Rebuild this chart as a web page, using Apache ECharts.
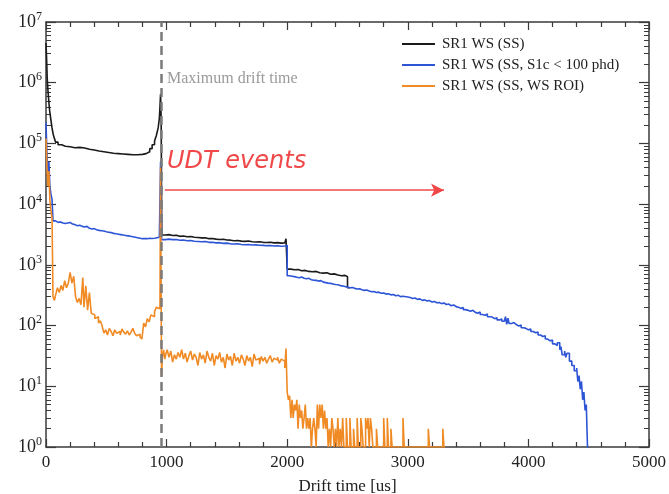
<!DOCTYPE html>
<html>
<head>
<meta charset="utf-8">
<script src="https://cdn.jsdelivr.net/npm/echarts@6/dist/echarts.min.js"></script>
<style>
html,body{margin:0;padding:0;background:#fff;}
#chart{width:669px;height:494px;}
</style>
</head>
<body>
<div id="chart"></div>
<script>
// ---- data (bin left edge [us], counts) ----
const seriesNames = ['SR1 WS (SS)', 'SR1 WS (SS, S1c < 100 phd)', 'SR1 WS (SS, WS ROI)'];
const xTickValues = [0, 1000, 2000, 3000, 4000, 5000];
const maxDriftTime = 953;

const blackData = [
 [0,4.5e6],[5,2.5e6],[10,1.2e6],[15,8e5],[20,6e5],[25,4.5e5],[30,3.5e5],[40,2.5e5],[50,1.8e5],[60,1.4e5],
 [70,1.2e5],[80,1.05e5],[100,9.5e4],[130,9.0e4],[160,8.8e4],[200,8.5e4],[240,8.6e4],[280,8.4e4],[320,8.0e4],
 [360,7.8e4],[400,7.5e4],[440,7.3e4],[480,7.1e4],[520,6.9e4],[560,6.8e4],[600,6.7e4],[640,6.6e4],[680,6.5e4],
 [720,6.5e4],[760,6.6e4],[800,6.8e4],[830,7.3e4],[860,8.2e4],[880,9.5e4],[900,1.1e5],[915,1.35e5],[930,1.8e5],
 [940,2.6e5],[945,4.0e5],[950,6.5e5],[955,2.5e5],[960,3.1e3],[990,3.15e3],[1020,3.05e3],[1050,3.08e3],
 [1080,2.95e3],[1110,2.98e3],[1140,2.9e3],[1170,2.93e3],[1200,2.85e3],[1230,2.82e3],[1260,2.78e3],[1290,2.8e3],
 [1320,2.7e3],[1350,2.72e3],[1380,2.65e3],[1410,2.62e3],[1440,2.64e3],[1470,2.56e3],[1500,2.55e3],[1530,2.5e3],
 [1560,2.52e3],[1590,2.46e3],[1620,2.44e3],[1650,2.47e3],[1680,2.4e3],[1710,2.38e3],[1740,2.4e3],[1770,2.35e3],
 [1800,2.33e3],[1830,2.36e3],[1860,2.3e3],[1890,2.32e3],[1920,2.28e3],[1950,2.3e3],[1980,2.26e3],[1990,2.7e3],
 [2000,8.5e2],[2030,8.3e2],[2060,8.4e2],[2090,8.0e2],[2120,8.1e2],[2150,7.8e2],[2180,7.7e2],[2210,7.8e2],
 [2240,7.4e2],[2270,7.3e2],[2300,7.4e2],[2330,7.0e2],[2360,7.1e2],[2390,6.8e2],[2420,6.6e2],[2450,6.7e2],
 [2480,6.4e2],[2500,4.2e2],[2520,4.2e2]
];

const blueData = [
 [0,2.2e5],[8,6.5e4],[16,3.0e4],[24,5.0e4],[32,2.0e4],[40,1.5e4],[50,1.2e4],[58,5.3e3],[80,5.0e3],[100,5.1e3],
 [120,4.9e3],[140,4.8e3],[160,4.9e3],[180,5.0e3],[200,4.7e3],[220,4.6e3],[240,4.4e3],[260,4.5e3],[280,4.3e3],
 [300,4.2e3],[320,4.3e3],[340,4.0e3],[360,3.9e3],[380,3.95e3],[400,3.8e3],[420,3.7e3],[440,3.65e3],[460,3.6e3],
 [480,3.5e3],[500,3.45e3],[520,3.4e3],[540,3.3e3],[560,3.25e3],[580,3.2e3],[600,3.15e3],[620,3.1e3],[640,3.05e3],
 [660,3.0e3],[680,2.95e3],[700,2.9e3],[720,2.85e3],[740,2.8e3],[760,2.75e3],[780,2.7e3],[800,2.72e3],[820,2.7e3],
 [840,2.75e3],[860,2.72e3],[880,2.75e3],[900,2.8e3],[920,2.85e3],[940,3.0e3],[950,5.0e4],[958,2.6e3],[990,2.65e3],
 [1020,2.6e3],[1050,2.62e3],[1080,2.55e3],[1110,2.57e3],[1140,2.5e3],[1170,2.52e3],[1200,2.45e3],[1230,2.43e3],
 [1260,2.4e3],[1290,2.42e3],[1320,2.35e3],[1350,2.36e3],[1380,2.3e3],[1410,2.32e3],[1440,2.26e3],[1470,2.28e3],
 [1500,2.22e3],[1530,2.2e3],[1560,2.22e3],[1590,2.17e3],[1620,2.15e3],[1650,2.17e3],[1680,2.12e3],[1710,2.13e3],
 [1740,2.1e3],[1770,2.09e3],[1800,2.07e3],[1830,2.08e3],[1860,2.05e3],[1890,2.06e3],[1920,2.03e3],[1950,2.04e3],
 [1980,2.02e3],[1990,2.1e3],
 [2000,660],[2020,650],[2040,640],[2060,625],[2080,615],[2100,630],[2120,600],[2140,590],[2160,600],[2180,570],
 [2200,560],[2220,555],[2240,540],[2260,550],[2280,520],[2300,510],[2320,500],[2340,495],[2360,485],[2380,475],
 [2400,470],[2420,455],[2440,450],[2460,440],[2480,430],[2500,420],[2520,425],[2540,410],[2560,400],[2580,405],
 [2600,390],[2620,380],[2640,385],[2660,370],[2680,360],[2700,365],[2720,350],[2740,355],[2760,340],[2780,345],
 [2800,330],[2820,335],[2840,320],[2860,325],[2880,310],[2900,315],[2920,300],[2940,305],[2960,295],[3000,290],
 [3020,280],[3040,285],[3060,270],[3080,275],[3100,260],[3120,265],[3140,255],[3160,258],[3180,245],[3200,250],
 [3220,238],[3240,240],[3260,230],[3280,235],[3300,222],[3320,226],[3340,212],[3360,218],[3380,205],[3400,200],
 [3420,192],[3440,198],[3460,183],[3480,178],[3500,172],[3520,178],[3540,165],[3560,160],[3580,168],[3600,152],
 [3620,148],[3640,155],[3660,140],[3680,138],[3700,130],[3720,135],[3740,124],[3760,128],[3780,118],[3800,122],
 [3810,140],[3820,105],[3830,132],[3840,108],[3860,112],[3880,104],[3900,98],[3920,102],[3940,92],[3960,90],
 [3980,85],[4000,88],[4020,80],[4040,76],[4060,78],[4080,70],[4100,66],[4120,68],[4140,60],[4160,56],[4180,58],
 [4200,50],[4220,47],[4240,52],[4260,40],[4270,45],[4280,33],[4300,38],[4310,30],[4320,35],[4340,26],[4360,22],
 [4380,18],[4400,20],[4410,12],[4420,15],[4430,9],[4440,12],[4450,6],[4460,8],[4470,4],[4480,5],[4490,1],[4500,1]
];

const orangeData = [
 [0,1.2e5],[8,4e4],[16,2e4],[24,3.5e4],[32,1.2e4],[40,8e3],[50,6e3],[58,3.0e2],[70,2.6e2],[80,3.2e2],[95,4.2e2],
 [110,3.5e2],[125,4.6e2],[140,3.8e2],[155,5.5e2],[170,4.2e2],[185,5.0e2],[200,7.5e2],[215,5.0e2],[230,6.5e2],
 [245,3.0e2],[260,2.4e2],[275,2.8e2],[290,2.2e2],[305,6.2e2],[315,2.0e2],[330,4.5e2],[345,1.8e2],[360,3.5e2],
 [375,1.6e2],[390,1.5e2],[405,1.3e2],[420,1.4e2],[435,1.1e2],[450,1.2e2],[465,1.0e2],[480,75],[495,85],[510,70],
 [525,90],[540,80],[555,68],[570,85],[585,75],[600,80],[615,70],[630,88],[645,78],[660,72],[675,82],[690,70],
 [705,78],[720,90],[735,75],[750,68],[765,72],[780,65],[795,60],[810,110],[825,95],[840,130],[855,115],[870,150],
 [885,140],[900,170],[915,200],[930,190],[945,210],[950,4e4],[958,15],[965,30],[975,40],[985,28],[995,35],
 [1005,40],[1020,30],[1035,38],[1050,25],[1065,33],[1080,28],[1095,36],[1110,30],[1125,40],[1140,28],[1155,35],
 [1170,25],[1185,32],[1200,38],[1215,27],[1230,34],[1245,30],[1260,22],[1275,36],[1290,28],[1305,33],[1320,24],
 [1335,38],[1350,30],[1365,26],[1380,35],[1395,22],[1410,32],[1425,28],[1440,36],[1455,25],[1470,30],[1485,20],
 [1500,34],[1515,27],[1530,31],[1545,22],[1560,35],[1575,26],[1590,30],[1605,24],[1620,33],[1635,28],[1650,22],
 [1665,32],[1680,26],[1695,30],[1710,21],[1725,34],[1740,27],[1755,29],[1770,23],[1785,31],[1800,26],[1815,30],
 [1830,24],[1845,28],[1860,32],[1875,25],[1890,29],[1905,27],[1920,30],[1935,24],[1950,28],[1965,26],[1980,20],
 [1990,42],[2000,8],[2010,6],[2020,7],[2030,3],[2040,6],[2050,3],[2060,5],[2070,4],[2080,6],[2090,2],[2100,5],
 [2110,3],[2120,4],[2130,2],[2140,3],[2150,5],[2160,2],[2170,3],[2180,2],[2190,3],[2200,1],[2210,2],[2220,3],
 [2230,2],[2240,1],[2250,5],[2260,2],[2270,5],[2280,3],[2290,5],[2300,2],[2310,4],[2320,2],[2330,3],[2340,1],
 [2350,2],[2360,1],[2370,3],[2380,2],[2390,1],[2400,2],[2410,1],[2420,3],[2430,1],[2440,2],[2450,1],[2460,3],
 [2470,1],[2490,3],[2500,1],[2520,3],[2530,1],[2550,2],[2560,1],[2580,3],[2590,1],[2610,3],[2620,2],[2630,1],
 [2650,3],[2660,2],[2670,3],[2680,1],[2690,3],[2700,2],[2710,1],[2740,2],[2750,1],[2800,3],[2810,1],[2830,3],
 [2840,1],[2860,2],[2870,1],[2960,3],[2970,1],[3170,2],[3180,1],[3290,2],[3300,1],[3310,1]
];

const SERIF = '"Liberation Serif", "DejaVu Serif", serif';
const AXIS_COLOR = '#3a3a3a';
const colors = ['#1a1a1a', '#2d55d6', '#f08a24'];

const chart = echarts.init(document.getElementById('chart'), null, {renderer: 'canvas'});

const commonX = {
  type: 'value', min: 0, max: 5000, interval: 1000,
  axisLine: {show: true, onZero: false, lineStyle: {color: AXIS_COLOR, width: 1.5}},
  axisTick: {show: true, inside: true, length: 8, lineStyle: {color: AXIS_COLOR, width: 1.2}},
  minorTick: {show: true, splitNumber: 5, length: 5, lineStyle: {color: AXIS_COLOR, width: 1.2}},
  splitLine: {show: false}, minorSplitLine: {show: false}
};
const commonY = {
  type: 'log', logBase: 10, min: 1, max: 1e7, splitNumber: 7,
  axisLine: {show: true, onZero: false, lineStyle: {color: AXIS_COLOR, width: 1.5}},
  axisTick: {show: true, inside: true, length: 10, lineStyle: {color: AXIS_COLOR, width: 1.2}},
  minorTick: {show: true, splitNumber: 9, length: 5, lineStyle: {color: AXIS_COLOR, width: 1}},
  splitLine: {show: false}, minorSplitLine: {show: false}
};

const option = {
  animation: false,
  color: colors,
  grid: {left: 46, right: 20, top: 22, bottom: 47, containLabel: false, outerBoundsMode: 'none'},
  legend: {
    data: seriesNames, orient: 'vertical', left: 397, top: 31,
    icon: 'rect', itemWidth: 33, itemHeight: 2, itemGap: 5,
    textStyle: {fontFamily: SERIF, fontSize: 15, color: '#222', lineHeight: 16, padding: [0, 0, 0, 2]},
    inactiveColor: '#ccc'
  },
  xAxis: [
    Object.assign({}, commonX, {
      position: 'bottom',
      axisLabel: {show: true, fontFamily: SERIF, fontSize: 17, color: '#222', margin: 7,
        formatter: v => xTickValues.indexOf(v) >= 0 ? String(v) : ''},
      name: 'Drift time [us]', nameLocation: 'middle', nameGap: 31,
      nameTextStyle: {fontFamily: SERIF, fontSize: 17, color: '#222'}
    }),
    Object.assign({}, commonX, {position: 'top', axisLabel: {show: false}})
  ],
  yAxis: [
    Object.assign({}, commonY, {
      position: 'left',
      axisLabel: {
        show: true, margin: 4,
        formatter: v => '{b|10}{s|' + Math.round(Math.log10(v)) + '}',
        rich: {
          b: {fontFamily: SERIF, fontSize: 18, color: '#222'},
          s: {fontFamily: SERIF, fontSize: 12, color: '#222', padding: [0, 0, 11, 0]}
        }
      }
    }),
    Object.assign({}, commonY, {position: 'right', axisLabel: {show: false}})
  ],
  series: [
    {name: seriesNames[0], type: 'line', step: 'end', data: blackData, showSymbol: false, symbol: 'none',
     lineStyle: {width: 1.6, color: colors[0]}, z: 2},
    {name: seriesNames[1], type: 'line', step: 'end', data: blueData, showSymbol: false, symbol: 'none',
     lineStyle: {width: 1.6, color: colors[1]}, z: 3},
    {name: seriesNames[2], type: 'line', step: 'end', data: orangeData, showSymbol: false, symbol: 'none',
     lineStyle: {width: 1.6, color: colors[2]}, z: 4,
     markLine: {
       silent: true, symbol: ['none', 'none'], label: {show: false},
       data: [
         {xAxis: maxDriftTime, lineStyle: {color: '#7a7a7a', width: 2.5, type: [9, 5]}},
         [
           {coord: [985, 1.7e4], symbol: 'none', lineStyle: {color: '#f04848', width: 1.6, type: 'solid'}},
           {coord: [3300, 1.7e4], symbol: 'arrow', symbolSize: [10, 13]}
         ]
       ]
     }}
  ],
  graphic: [
    {type: 'text', left: 167, top: 71, style: {text: 'Maximum drift time', fontFamily: SERIF, fontSize: 16, fill: '#9a9a9a'}},
    {type: 'text', left: 167, top: 150, style: {text: 'UDT events', fontFamily: '"DejaVu Sans", sans-serif', fontStyle: 'italic', fontSize: 24, fill: '#f04848'}}
  ]
};
chart.setOption(option);
</script>
</body>
</html>
